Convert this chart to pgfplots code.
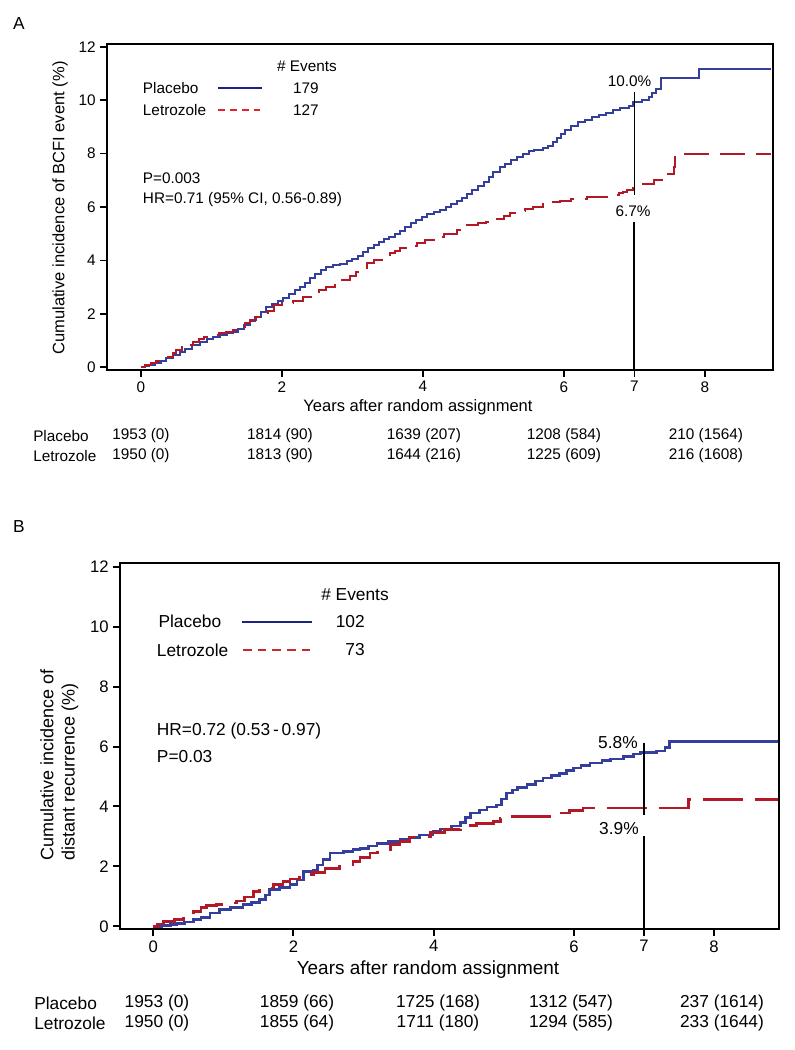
\documentclass[border=0pt]{standalone}
\usepackage{pgfplots}
\pgfplotsset{compat=1.18}
\usepackage{fontspec}
\setmainfont{Liberation Sans}
\definecolor{pbo}{RGB}{52,62,156}
\definecolor{ltz}{RGB}{178,24,38}
\definecolor{legblue}{RGB}{28,36,128}
\definecolor{legredA}{RGB}{225,35,45}
\definecolor{legredB}{RGB}{200,40,50}
\begin{document}
\begin{tikzpicture}
\useasboundingbox (0,0) rectangle (595.5pt,-787.5pt);
% ---------------- Panel A ----------------
\begin{axis}[at={(80.25pt,-277.5pt)}, anchor=south west, scale only axis,
  width=499.5pt, height=244.5pt,
  xmin=-0.482, xmax=8.965, ymin=-0.1, ymax=12.1,
  xtick={0,2,4,6,7,8}, ytick={0,2,4,6,8,10,12},
  tick align=outside, xtick pos=left, ytick pos=left,
  major tick length=5pt, tick style={black, line width=1.3pt},
  axis line style={line width=2pt},
  ticklabel style={font=\fontsize{11.5}{13}\selectfont},
  /pgf/number format/assume math mode=true,
  clip=false]
\addplot[const plot, pbo, line width=1.5pt] coordinates {
(0,0) (0.05,0.05) (0.12,0.1) (0.2,0.17) (0.28,0.25) (0.36,0.34) (0.45,0.45) (0.55,0.58)
(0.63,0.7) (0.72,0.82) (0.84,0.96) (0.93,1.05) (1.02,1.15) (1.12,1.2) (1.22,1.27) (1.31,1.33)
(1.38,1.45) (1.46,1.58) (1.55,1.72) (1.62,1.9) (1.7,2.08) (1.78,2.25) (1.86,2.38) (1.95,2.5)
(2.02,2.6) (2.1,2.75) (2.18,2.9) (2.26,3.0) (2.33,3.15) (2.4,3.35) (2.47,3.5) (2.55,3.65)
(2.63,3.75) (2.73,3.83) (2.82,3.88) (2.92,3.98) (3.0,4.05) (3.08,4.18) (3.15,4.32) (3.22,4.45)
(3.3,4.58) (3.38,4.7) (3.45,4.8) (3.52,4.88) (3.6,5.0) (3.67,5.1) (3.75,5.25) (3.83,5.4)
(3.9,5.5) (3.98,5.62) (4.06,5.72) (4.15,5.82) (4.24,5.9) (4.32,6.0) (4.4,6.1) (4.48,6.22)
(4.55,6.35) (4.62,6.48) (4.7,6.62) (4.78,6.78) (4.86,6.95) (4.93,7.12) (5.0,7.3) (5.09,7.48)
(5.17,7.62) (5.25,7.75) (5.33,7.88) (5.42,7.98) (5.5,8.08) (5.58,8.15) (5.7,8.22) (5.78,8.3)
(5.84,8.45) (5.9,8.6) (5.96,8.75) (6.02,8.9) (6.1,9.05) (6.2,9.17) (6.3,9.27) (6.4,9.35)
(6.5,9.44) (6.6,9.52) (6.7,9.62) (6.8,9.7) (6.92,9.78) (6.98,9.94) (7.1,10.02) (7.2,10.12)
(7.25,10.25) (7.3,10.4) (7.38,10.82) (7.92,11.15) (8.93,11.15)};
\addplot[const plot, ltz, line width=1.5pt, dash pattern=on 19pt off 8pt] coordinates {
(0,0) (0.06,0.08) (0.14,0.15) (0.22,0.22) (0.3,0.3) (0.38,0.4) (0.45,0.55) (0.5,0.65)
(0.58,0.75) (0.66,0.85) (0.74,0.96) (0.82,1.05) (0.9,1.12) (0.98,1.2) (1.1,1.27) (1.2,1.33)
(1.31,1.4) (1.4,1.52) (1.48,1.65) (1.55,1.77) (1.63,1.88) (1.73,1.96) (1.8,2.1) (1.88,2.33)
(2.0,2.4) (2.16,2.49) (2.3,2.62) (2.44,2.77) (2.52,2.88) (2.63,3.02) (2.75,3.15) (2.85,3.28)
(2.96,3.42) (3.05,3.58) (3.12,3.72) (3.2,3.89) (3.3,4.0) (3.42,4.12) (3.53,4.27) (3.6,4.36)
(3.67,4.45) (3.8,4.55) (3.91,4.64) (4.03,4.76) (4.15,4.89) (4.3,5.0) (4.48,5.14) (4.55,5.22)
(4.62,5.33) (4.78,5.4) (4.9,5.45) (5.05,5.55) (5.15,5.66) (5.23,5.76) (5.35,5.85) (5.45,5.93)
(5.56,6.01) (5.7,6.1) (5.82,6.18) (5.94,6.24) (6.1,6.3) (6.32,6.36) (6.61,6.45) (6.78,6.52)
(6.84,6.58) (6.9,6.65) (6.98,6.72) (7.08,6.85) (7.27,7.01) (7.48,7.23) (7.56,7.51) (7.58,7.97)
(8.93,7.97)};
\draw[black, line width=0.9pt] (axis cs:7,10.3) -- (axis cs:7,6.45);
\draw[black, line width=1.5pt] (axis cs:7,5.45) -- (axis cs:7,-0.1);
\draw[black, line width=2pt] (rel axis cs:0,0) rectangle (rel axis cs:1,1);
\end{axis}
% ---------------- Panel B ----------------
\begin{axis}[at={(90pt,-696.75pt)}, anchor=south west, scale only axis,
  width=494.25pt, height=274.5pt,
  xmin=-0.475, xmax=8.926, ymin=-0.087, ymax=12.12,
  xtick={0,2,4,6,7,8}, ytick={0,2,4,6,8,10,12},
  tick align=outside, xtick pos=left, ytick pos=left,
  major tick length=5pt, tick style={black, line width=1.5pt},
  axis line style={line width=2.2pt},
  ticklabel style={font=\fontsize{12.5}{14}\selectfont},
  /pgf/number format/assume math mode=true,
  clip=false]
\addplot[const plot, pbo, line width=2.1pt] coordinates {
(0,0) (0.12,0.03) (0.25,0.07) (0.33,0.1) (0.45,0.15) (0.57,0.22) (0.68,0.3) (0.81,0.45)
(0.95,0.56) (1.1,0.63) (1.28,0.72) (1.4,0.8) (1.52,0.91) (1.6,1.05) (1.66,1.22) (1.8,1.3)
(1.95,1.39) (2.05,1.55) (2.14,1.83) (2.28,1.87) (2.34,2.05) (2.42,2.22) (2.52,2.45) (2.71,2.5)
(2.85,2.56) (2.95,2.61) (3.07,2.68) (3.19,2.76) (3.35,2.82) (3.52,2.91) (3.66,2.96) (3.8,3.05)
(3.99,3.17) (4.1,3.25) (4.25,3.35) (4.38,3.47) (4.45,3.62) (4.52,3.78) (4.65,3.88) (4.76,3.98)
(4.9,4.05) (4.97,4.25) (5.04,4.45) (5.12,4.55) (5.2,4.62) (5.33,4.72) (5.45,4.85) (5.56,4.95)
(5.68,5.03) (5.8,5.11) (5.9,5.2) (5.99,5.28) (6.1,5.36) (6.23,5.45) (6.4,5.52) (6.52,5.58)
(6.71,5.68) (6.85,5.75) (6.95,5.8) (7.18,5.85) (7.3,5.97) (7.36,6.17) (8.93,6.17)};
\addplot[const plot, ltz, line width=2.1pt, dash pattern=on 30pt off 9pt] coordinates {
(0,0) (0.06,0.08) (0.14,0.17) (0.3,0.22) (0.43,0.28) (0.57,0.5) (0.68,0.62) (0.76,0.69)
(0.9,0.74) (1.0,0.78) (1.19,0.85) (1.3,0.98) (1.43,1.17) (1.52,1.28) (1.71,1.39) (1.85,1.5)
(1.95,1.58) (2.09,1.62) (2.2,1.72) (2.28,1.8) (2.45,1.92) (2.66,2.06) (2.85,2.17) (2.95,2.3)
(3.09,2.45) (3.2,2.55) (3.38,2.72) (3.52,2.83) (3.66,2.98) (3.95,3.13) (4.15,3.22) (4.38,3.36)
(4.61,3.42) (4.85,3.5) (4.95,3.61) (5.04,3.67) (5.61,3.67) (5.75,3.78) (5.94,3.87) (6.13,3.95)
(7.64,4.22) (8.93,4.22)};
\draw[black, line width=1.4pt] (axis cs:7,6.11) -- (axis cs:7,3.7);
\draw[black, line width=1.4pt] (axis cs:7,3.0) -- (axis cs:7,-0.087);
\draw[black, line width=2.2pt] (rel axis cs:0,0) rectangle (rel axis cs:1,1);
\end{axis}
% ---------------- Text ----------------
\begin{scope}[x=0.75pt, y=-0.75pt]
\node[font=\fontsize{13}{15}\selectfont] at (19,24) {A};
\node[font=\fontsize{13}{15}\selectfont] at (19,527) {B};
% Panel A labels
\node[rotate=90, font=\fontsize{12.4}{14}\selectfont] at (60,208) {Cumulative incidence of BCFI event (\%)};
\node[font=\fontsize{12.4}{14}\selectfont] at (418,407) {Years after random assignment};
\begin{scope}[font=\fontsize{11.5}{13}\selectfont]
\node at (307,66.7) {\# Events};
\node[anchor=west, inner sep=0pt] at (142.7,88.3) {Placebo};
\node[anchor=west, inner sep=0pt] at (142.7,110) {Letrozole};
\node at (305.8,88.3) {179};
\node at (305.8,110) {127};
\node[anchor=west, inner sep=0pt] at (142.7,178.3) {P=0.003};
\node[anchor=west, inner sep=0pt] at (142.7,200) {HR=0.71 (95\% CI, 0.56-0.89)};
\node at (629.5,81.7) {10.0\%};
\node at (633,211.7) {6.7\%};
\node[anchor=west, inner sep=0pt] at (33,436) {Placebo};
\node[anchor=west, inner sep=0pt] at (33,456) {Letrozole};
\node at (141,436) {1953 (0)};
\node at (280,436) {1814 (90)};
\node at (424,436) {1639 (207)};
\node at (564,436) {1208 (584)};
\node at (706,436) {210 (1564)};
\node at (141,456) {1950 (0)};
\node at (280,456) {1813 (90)};
\node at (424,456) {1644 (216)};
\node at (564,456) {1225 (609)};
\node at (706,456) {216 (1608)};
\end{scope}
\draw[legblue, line width=1.6pt] (218.3,88.3) -- (261.7,88.3);
\draw[legredA, line width=1.6pt, dash pattern=on 5.2pt off 3.6pt] (218.3,110) -- (262,110);
% Panel B labels
\node[rotate=90, anchor=west, font=\fontsize{13.5}{15}\selectfont] at (47,865) {Cumulative incidence of};
\node[rotate=90, anchor=west, font=\fontsize{13.5}{15}\selectfont] at (70,865) {distant recurrence (\%)};
\node[font=\fontsize{14.2}{16}\selectfont] at (428,970) {Years after random assignment};
\begin{scope}[font=\fontsize{13}{15}\selectfont]
\node at (355,595) {\# Events};
\node[anchor=west, inner sep=0pt] at (158.3,621.7) {Placebo};
\node[anchor=west, inner sep=0pt] at (156.7,650) {Letrozole};
\node[anchor=east, inner sep=0pt] at (365,621.7) {102};
\node[anchor=east, inner sep=0pt] at (365,650) {73};
\node[anchor=west, inner sep=0pt] at (156.7,731) {HR=0.72 (0.53\,-\,0.97)};
\node[anchor=west, inner sep=0pt] at (156.7,757) {P=0.03};
\node[anchor=east, inner sep=0pt] at (638,742.3) {5.8\%};
\node[anchor=east, inner sep=0pt] at (639,828.3) {3.9\%};
\node[anchor=west, inner sep=0pt] at (34,1003) {Placebo};
\node[anchor=west, inner sep=0pt] at (34,1023) {Letrozole};
\node at (157,1003) {1953 (0)};
\node at (297,1003) {1859 (66)};
\node at (438,1003) {1725 (168)};
\node at (571,1003) {1312 (547)};
\node at (722,1003) {237 (1614)};
\node at (157,1023) {1950 (0)};
\node at (297,1023) {1855 (64)};
\node at (438,1023) {1711 (180)};
\node at (571,1023) {1294 (585)};
\node at (722,1023) {233 (1644)};
\end{scope}
\draw[legblue, line width=1.8pt] (241.7,621.7) -- (311.7,621.7);
\draw[legredB, line width=1.8pt, dash pattern=on 6.5pt off 4.5pt] (243,650) -- (313,650);
\end{scope}
\end{tikzpicture}
\end{document}
